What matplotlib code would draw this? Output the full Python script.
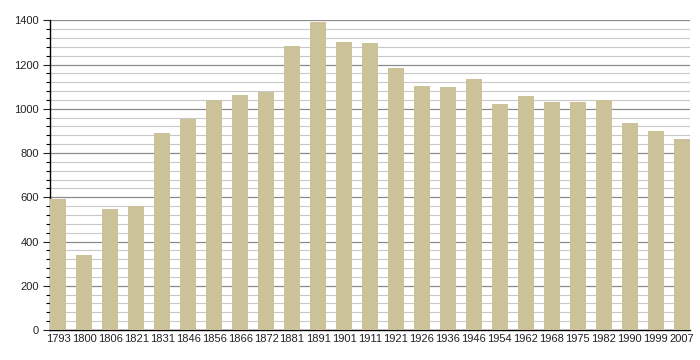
import matplotlib
matplotlib.use('Agg')
import matplotlib.pyplot as plt
from matplotlib.ticker import MultipleLocator

# Population by census year
years = ['1793', '1800', '1806', '1821', '1831', '1846', '1856', '1866', '1872',
         '1881', '1891', '1901', '1911', '1921', '1926', '1936', '1946', '1954',
         '1962', '1968', '1975', '1982', '1990', '1999', '2007']
population = [592, 340, 548, 560, 891, 956, 1039, 1061, 1076,
              1283, 1391, 1301, 1296, 1183, 1102, 1097, 1134, 1021,
              1057, 1030, 1030, 1039, 935, 899, 863]

plt.rcParams['font.family'] = ['Liberation Sans', 'DejaVu Sans']

fig = plt.figure(figsize=(7, 3.6), dpi=100)
ax = fig.add_axes([50 / 700, 30 / 360, 640 / 700, 309.7 / 360])

w = 0.635
x = range(len(years))
ax.bar(x, population, width=w, color='#cbc29a', zorder=3)

ax.set_xlim(-w / 2, len(years) - 1 + w / 2)
ax.set_ylim(0, 1400)

# grid: light every 40, darker every 200
ax.yaxis.set_major_locator(MultipleLocator(200))
ax.yaxis.set_minor_locator(MultipleLocator(40))
ax.grid(axis='y', which='minor', color='#c8c8c8', linewidth=0.8, zorder=0)
ax.grid(axis='y', which='major', color='#8c8c8c', linewidth=0.9, zorder=1)

ax.set_xticks(list(x))
ax.set_xticklabels(years)
ax.tick_params(axis='x', length=0, pad=3, labelsize=8, colors='#222222')
ax.tick_params(axis='y', which='major', length=5, width=0.8, pad=3, labelsize=8, colors='#222222')
ax.tick_params(axis='y', which='minor', length=3, width=0.8)

for side in ['top', 'right']:
    ax.spines[side].set_visible(False)
ax.spines['left'].set_linewidth(1.0)
ax.spines['bottom'].set_linewidth(1.0)

plt.savefig('out.png', dpi=100)
plt.close()
